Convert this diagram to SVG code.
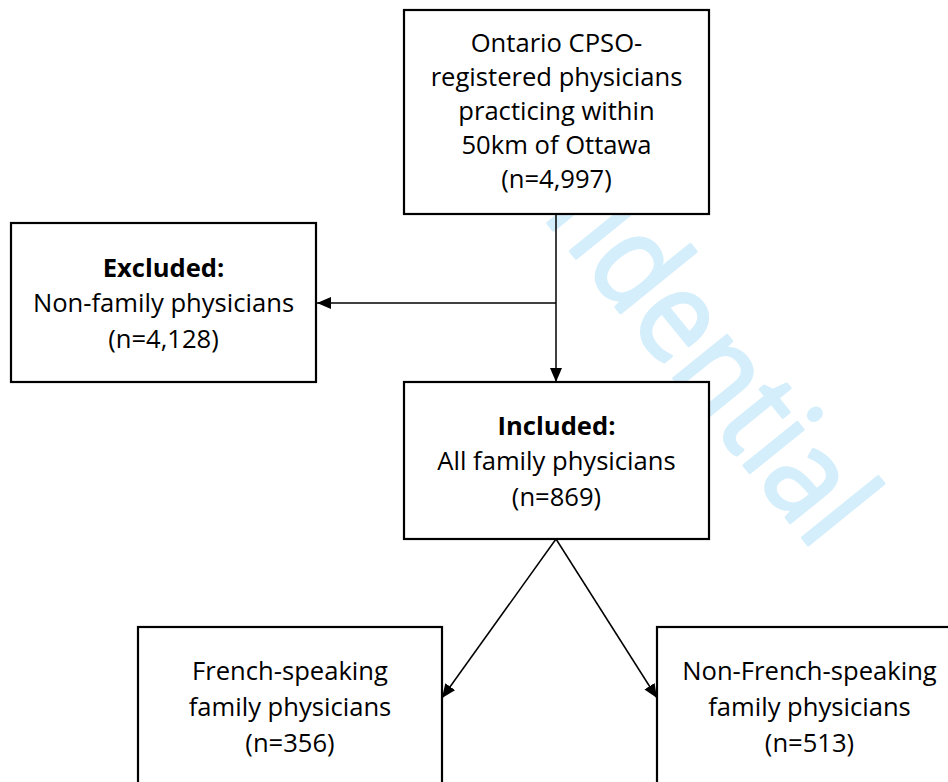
<svg xmlns="http://www.w3.org/2000/svg" width="948" height="782" viewBox="0 0 948 782">
<defs>
<marker id="arr" viewBox="0 0 14 12" refX="14" refY="6" markerWidth="14" markerHeight="12" markerUnits="userSpaceOnUse" orient="auto">
<path d="M0,0 L14,6 L0,12 Z" fill="#000"/>
</marker>
<style>
.box{fill:#fff;stroke:#000;stroke-width:2.2}
.t{font-family:"Open Sans","Noto Sans","Liberation Sans",sans-serif;font-size:25.6px;fill:#000;text-anchor:middle}
.b{font-weight:bold}
.c{stroke:#000;stroke-width:1.5;fill:none}
.wm{font-family:"Open Sans","Noto Sans",sans-serif;font-size:128px;fill:#d4eefb;stroke:#d4eefb;stroke-width:3;stroke-linejoin:round}
</style>
</defs>
<rect width="948" height="782" fill="#fff"/>
<text class="wm" transform="translate(406,48) rotate(51) scale(0.9,1)">Confidential</text>
<g id="connectors">
<line class="c" x1="556" y1="214" x2="556" y2="382" marker-end="url(#arr)"/>
<line class="c" x1="556" y1="303" x2="317" y2="303" marker-end="url(#arr)"/>
<line class="c" x1="556" y1="539" x2="442" y2="698" marker-end="url(#arr)"/>
<line class="c" x1="556" y1="539" x2="657" y2="698" marker-end="url(#arr)"/>
</g>
<g id="n_all">
<rect class="box" x="404" y="10" width="305" height="204"/>
<text class="t" x="556.5" y="52">Ontario CPSO-</text>
<text class="t" x="556.5" y="86">registered physicians</text>
<text class="t" x="556.5" y="120">practicing within</text>
<text class="t" x="556.5" y="154">50km of Ottawa</text>
<text class="t" x="556.5" y="188">(n=4,997)</text>
</g>
<g id="n_excluded">
<rect class="box" x="11" y="223" width="305" height="159"/>
<text class="t b" x="163.5" y="277">Excluded:</text>
<text class="t" x="163.5" y="312">Non-family physicians</text>
<text class="t" x="163.5" y="348">(n=4,128)</text>
</g>
<g id="n_included">
<rect class="box" x="404" y="382" width="305" height="157"/>
<text class="t b" x="556.5" y="435">Included:</text>
<text class="t" x="556.5" y="470">All family physicians</text>
<text class="t" x="556.5" y="506">(n=869)</text>
</g>
<g id="n_french">
<rect class="box" x="138" y="627" width="304" height="170"/>
<text class="t" x="290" y="680">French-speaking</text>
<text class="t" x="290" y="716">family physicians</text>
<text class="t" x="290" y="752">(n=356)</text>
</g>
<g id="n_nonfrench">
<rect class="box" x="657" y="627" width="305" height="170"/>
<text class="t" x="809.5" y="680">Non-French-speaking</text>
<text class="t" x="809.5" y="716">family physicians</text>
<text class="t" x="809.5" y="752">(n=513)</text>
</g>
</svg>
